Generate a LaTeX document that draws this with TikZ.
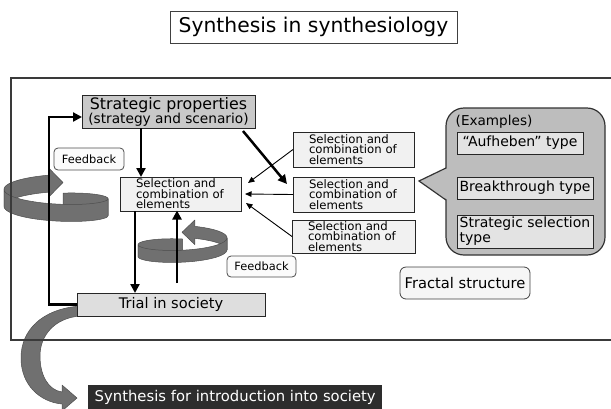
\documentclass[tikz,border=0pt]{standalone}
\usepackage{fontspec}
\setmainfont{DejaVu Sans}
\usetikzlibrary{arrows.meta,calc}

\definecolor{framecol}{HTML}{3A3A3A}
\definecolor{stratfill}{HTML}{C9C9C9}
\definecolor{selfill}{HTML}{F1F1F1}
\definecolor{trialfill}{HTML}{DEDEDE}
\definecolor{calfill}{HTML}{BDBDBD}
\definecolor{typefill}{HTML}{E3E3E3}
\definecolor{fracfill}{HTML}{F6F6F6}
\definecolor{fbfill}{HTML}{FBFBFB}
\definecolor{ringgray}{HTML}{707070}
\definecolor{ringedge}{HTML}{4E4E4E}
\definecolor{darkfill}{HTML}{2D2D2D}

\begin{document}
\begin{tikzpicture}[x=1pt,y=-1pt,
  box/.style={draw=black!85, line width=0.8pt, inner sep=0pt, outer sep=0pt},
  selbox/.style={box, fill=selfill, anchor=north west, text width=89pt, align=left,
    inner xsep=16pt, minimum height=34pt, font=\fontsize{11.7}{10.5}\selectfont},
  fbbox/.style={box, draw=black!70, fill=fbfill, rounded corners=4pt, anchor=north west,
    minimum width=70pt, minimum height=22pt, font=\fontsize{11.4}{13}\selectfont},
  typebox/.style={box, fill=typefill, anchor=north west, align=left, inner xsep=2.5pt,
    font=\fontsize{14}{15}\selectfont},
  bigarrow/.style={line width=2.5pt, -{Triangle[length=9pt,width=9pt]}},
  thinarrow/.style={line width=0.9pt, -{Triangle[length=6.5pt,width=5.5pt]}},
  ribbon/.style={fill=ringgray, draw=ringedge, line width=0.5pt, line join=round},
]
\useasboundingbox (0,0) rectangle (611,408);

% ---- curved arrow leaving the trial towards society
\filldraw[ribbon] (80,306) .. controls (42,309) and (21,330) .. (21,358)
  .. controls (21,385) and (40,402) .. (62,404) -- (62,411) -- (77,398) -- (62,385)
  -- (62,392) .. controls (48,390) and (40,375) .. (40,356)
  .. controls (40,335) and (55,318) .. (80,316) -- cycle;

% ---- helical feedback arrow on the left (clockwise seen from above)
\filldraw[ribbon] plot[domain=-82:0, samples=30, variable=\t]
    ({56+52*cos(\t)},{203+10*sin(\t)-18*(\t+82)/345})
  -- plot[domain=0:-82, samples=30, variable=\t]
    ({56+52*cos(\t)},{220+10*sin(\t)-18*(\t+82)/345}) -- cycle;
\filldraw[ribbon] plot[domain=180:263, samples=30, variable=\t]
    ({56+52*cos(\t)},{203+10*sin(\t)-18*(\t+82)/345})
  -- (49.7,169) -- (63,182.5) -- (49.7,196)
  -- plot[domain=263:180, samples=30, variable=\t]
    ({56+52*cos(\t)},{220+10*sin(\t)-18*(\t+82)/345}) -- cycle;
\filldraw[ribbon] plot[domain=0:180, samples=40, variable=\t]
    ({56+52*cos(\t)},{203+10*sin(\t)-18*(\t+82)/345})
  -- plot[domain=180:0, samples=40, variable=\t]
    ({56+52*cos(\t)},{220+10*sin(\t)-18*(\t+82)/345}) -- cycle;

% ---- helical feedback arrow in the middle (counter-clockwise seen from above)
\filldraw[ribbon] plot[domain=270:180, samples=30, variable=\t]
    ({182.5+44.5*cos(\t)},{248+9*sin(\t)-13*(270-\t)/344})
  -- plot[domain=180:270, samples=30, variable=\t]
    ({182.5+44.5*cos(\t)},{260+9*sin(\t)-13*(270-\t)/344}) -- cycle;
\filldraw[ribbon] plot[domain=0:-74, samples=30, variable=\t]
    ({182.5+44.5*cos(\t)},{248+9*sin(\t)-13*(270-\t)/344})
  -- (194.8,220) -- (182,232.3) -- (194.8,244.6)
  -- plot[domain=-74:0, samples=30, variable=\t]
    ({182.5+44.5*cos(\t)},{260+9*sin(\t)-13*(270-\t)/344}) -- cycle;
\filldraw[ribbon] plot[domain=180:0, samples=40, variable=\t]
    ({182.5+44.5*cos(\t)},{248+9*sin(\t)-13*(270-\t)/344})
  -- plot[domain=0:180, samples=40, variable=\t]
    ({182.5+44.5*cos(\t)},{260+9*sin(\t)-13*(270-\t)/344}) -- cycle;

% ---- outer frame (open to the right)
\draw[draw=framecol, line width=1.8pt] (612,78) -- (11,78) -- (11,340) -- (612,340);

% ---- title
\node[box, draw=black!75, fill=white, anchor=north west, minimum width=287pt,
  minimum height=32pt, font=\fontsize{20.3}{24}\selectfont] (title) at (170,11)
  {Synthesis in synthesiology};

% ---- main nodes
\node[box, fill=stratfill, anchor=north west, minimum width=173pt, minimum height=33pt,
  align=center, font=\fontsize{13.7}{14}\selectfont] (strat) at (82,95)
  {{\fontsize{15.8}{14}\selectfont Strategic properties}\\(strategy and scenario)};

\node[selbox] (sel) at (120,177) {Selection and\\combination of\\elements};
\node[selbox, minimum height=35pt] (s1) at (293,132) {Selection and\\combination of\\elements};
\node[selbox, minimum height=35pt] (s2) at (293,177) {Selection and\\combination of\\elements};
\node[selbox, minimum height=33pt, text width=91pt] (s3) at (292,220) {Selection and\\combination of\\elements};

\node[box, fill=trialfill, anchor=north west, minimum width=188pt, minimum height=23pt,
  font=\fontsize{14.6}{16}\selectfont] (trial) at (77,293) {Trial in society};

\node[fbbox] (fb1) at (54,148) {Feedback};
\node[fbbox, minimum width=69pt, minimum height=21pt] (fb2) at (227,256) {Feedback};

% ---- examples callout
\node[draw=black!80, line width=1.2pt, fill=calfill, rounded corners=18pt, anchor=north west,
  minimum width=159pt, minimum height=147pt, inner sep=0pt, outer sep=0pt] (ex) at (446,108) {};
\coordinate (pa) at ([yshift=13.5pt]ex.west);
\coordinate (pb) at ([yshift=-18.5pt]ex.west);
\coordinate (ptip) at ([xshift=-27pt,yshift=0.5pt]ex.west);
\fill[calfill] ([xshift=1.6pt]pa) -- (ptip) -- ([xshift=1.6pt]pb) -- cycle;
\draw[draw=black!80, line width=1.2pt] (pa) -- (ptip) -- (pb);

\node[anchor=west, inner sep=0pt, font=\fontsize{13.6}{16}\selectfont] (exlabel) at (455.5,122)
  {(Examples)};
\node[typebox, minimum width=126pt, minimum height=22pt] (aufh) at (457,132) {“Aufheben” type};
\node[typebox, minimum width=136pt, minimum height=22pt] (brk) at (457,177) {Breakthrough type};
\node[typebox, minimum width=136pt, minimum height=33pt] (ssel) at (457,215)
  {Strategic selection\\type};

\node[box, draw=black!75, fill=fracfill, rounded corners=6pt, anchor=north west,
  minimum width=130pt, minimum height=32pt, font=\fontsize{14.7}{16}\selectfont] (frac)
  at (400,267) {Fractal structure};

\node[fill=darkfill, text=white, anchor=north west, minimum width=294pt, minimum height=24pt,
  inner sep=0pt, font=\fontsize{14.8}{16}\selectfont] (intro) at (88,385)
  {Synthesis for introduction into society};

% ---- connectors
\coordinate (p1) at ([xshift=21pt]sel.north west);
\draw[bigarrow] (p1 |- strat.south) -- (p1);
\draw[bigarrow] ([xshift=-12pt,yshift=-3pt]strat.south east) -- ([xshift=-6pt,yshift=10.5pt]s2.west);

\draw[thinarrow] (s1.west) -- ([xshift=7pt,yshift=11pt]sel.east);
\draw[thinarrow] (s2.west) -- ([xshift=4pt]sel.east);
\draw[thinarrow] (s3.west) -- ([xshift=5pt,yshift=-9pt]sel.east);

\coordinate (p2) at ([xshift=15pt]sel.south west);
\draw[bigarrow] (p2) -- (p2 |- trial.north);
\coordinate (p3) at ([xshift=57pt]sel.south west);
\coordinate (p4) at ([yshift=10pt]trial.north);
\draw[bigarrow, shorten >=-0.5pt] (p3 |- p4) -- (p3);

\coordinate (sw) at ([yshift=-5.5pt]strat.west);
\draw[bigarrow] (trial.west) -- ++(-28,0) |- (sw);
\end{tikzpicture}
\end{document}
